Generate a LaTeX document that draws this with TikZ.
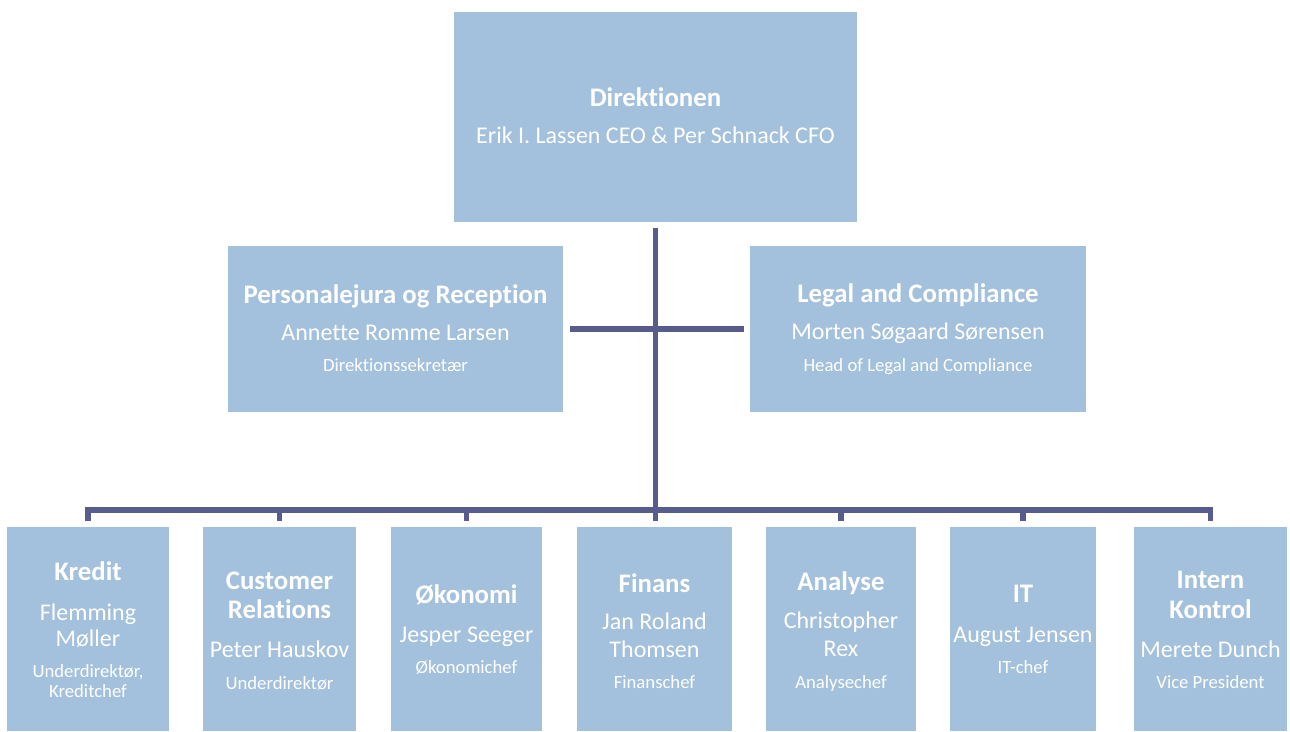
\documentclass[tikz,border=0pt]{standalone}
\usepackage{fontspec}
\setmainfont{Carlito}[Ligatures=NoCommon]
\definecolor{boxblue}{RGB}{163,193,220}
\definecolor{linecol}{RGB}{88,92,140}
\begin{document}
\begin{tikzpicture}[x=1pt,y=-1pt,
  box/.style={fill=boxblue,draw=none,inner sep=0pt,outer sep=0pt},
  ttl/.style={anchor=base,inner sep=0pt,text=white,font=\fontsize{26.8}{30}\selectfont\bfseries},
  nm/.style={anchor=base,inner sep=0pt,text=white,font=\fontsize{24}{28}\selectfont},
  sm/.style={anchor=base,inner sep=0pt,text=white,font=\fontsize{18.7}{20}\selectfont},
  conn/.style={draw=linecol,line width=5.5pt}]
\useasboundingbox (0,0) rectangle (1290,731);
% boxes
\node[box,minimum width=403pt,minimum height=210pt] (top) at (655.5,117) {};
\node[box,minimum width=335pt,minimum height=166pt] (pers) at (395.5,329) {};
\node[box,minimum width=336pt,minimum height=166pt] (legal) at (918,329) {};
\node[box,minimum width=162pt,minimum height=204pt] (kredit) at (88,629) {};
\node[box,minimum width=153pt,minimum height=204pt] (customer) at (279.5,629) {};
\node[box,minimum width=151pt,minimum height=204pt] (okonomi) at (466.5,629) {};
\node[box,minimum width=155pt,minimum height=204pt] (finans) at (654.5,629) {};
\node[box,minimum width=150pt,minimum height=204pt] (analyse) at (841,629) {};
\node[box,minimum width=146pt,minimum height=204pt] (it) at (1023,629) {};
\node[box,minimum width=153pt,minimum height=204pt] (intern) at (1210.5,629) {};
% texts
\node[ttl] (top-1) at (655.5,106.7) {Direktionen};
\node[nm]  (top-2) at (655.5,143.3) {Erik I. Lassen CEO \& Per Schnack CFO};
\node[ttl] (pers-1) at (395.5,303.5) {Personalejura og Reception};
\node[nm]  (pers-2) at (395.5,340) {Annette Romme Larsen};
\node[sm]  (pers-3) at (395.5,371.7) {Direktionssekretær};
\node[ttl] (legal-1) at (918,302) {Legal and Compliance};
\node[nm]  (legal-2) at (918,339) {Morten Søgaard Sørensen};
\node[sm]  (legal-3) at (918,371.7) {Head of Legal and Compliance};
\node[ttl] (kredit-1) at (88,580) {Kredit};
\node[nm]  (kredit-2) at (88,620) {Flemming};
\node[nm]  (kredit-3) at (88,646) {Møller};
\node[sm]  (kredit-4) at (88,677) {Underdirektør,};
\node[sm]  (kredit-5) at (88,697) {Kreditchef};
\node[ttl] (customer-1) at (279.5,589) {Customer};
\node[ttl] (customer-2) at (279.5,618) {Relations};
\node[nm]  (customer-3) at (279.5,657) {Peter Hauskov};
\node[sm]  (customer-4) at (279.5,689) {Underdirektør};
\node[ttl] (okonomi-1) at (466.5,603) {Økonomi};
\node[nm]  (okonomi-2) at (466.5,642) {Jesper Seeger};
\node[sm]  (okonomi-3) at (466.5,673) {Økonomichef};
\node[ttl] (finans-1) at (654.5,592) {Finans};
\node[nm]  (finans-2) at (654.5,629) {Jan Roland};
\node[nm]  (finans-3) at (654.5,657) {Thomsen};
\node[sm]  (finans-4) at (654.5,688) {Finanschef};
\node[ttl] (analyse-1) at (841,590) {Analyse};
\node[nm]  (analyse-2) at (841,628) {Christopher};
\node[nm]  (analyse-3) at (841,656) {Rex};
\node[sm]  (analyse-4) at (841,688) {Analysechef};
\node[ttl] (it-1) at (1023,602) {IT};
\node[nm]  (it-2) at (1023,642) {August Jensen};
\node[sm]  (it-3) at (1023,673) {IT-chef};
\node[ttl] (intern-1) at (1210.5,588) {Intern};
\node[ttl] (intern-2) at (1210.5,618) {Kontrol};
\node[nm]  (intern-3) at (1210.5,657) {Merete Dunch};
\node[sm]  (intern-4) at (1210.5,688) {Vice President};
% connectors
\coordinate (bus) at (0,510);
\draw[conn,shorten <=6pt,shorten >=6pt] (top.south) -- (top.south |- finans.north);
\draw[conn,shorten <=7pt,shorten >=6pt] (pers.east) -- (legal.west);
\draw[conn] ([yshift=6pt]kredit.north) -- (kredit.north |- bus) -- (intern.north |- bus) -- ([yshift=6pt]intern.north);
\foreach \n in {customer,okonomi,analyse,it}
  \draw[conn] (\n.north |- bus) -- ([yshift=6pt]\n.north);
\end{tikzpicture}
\end{document}
